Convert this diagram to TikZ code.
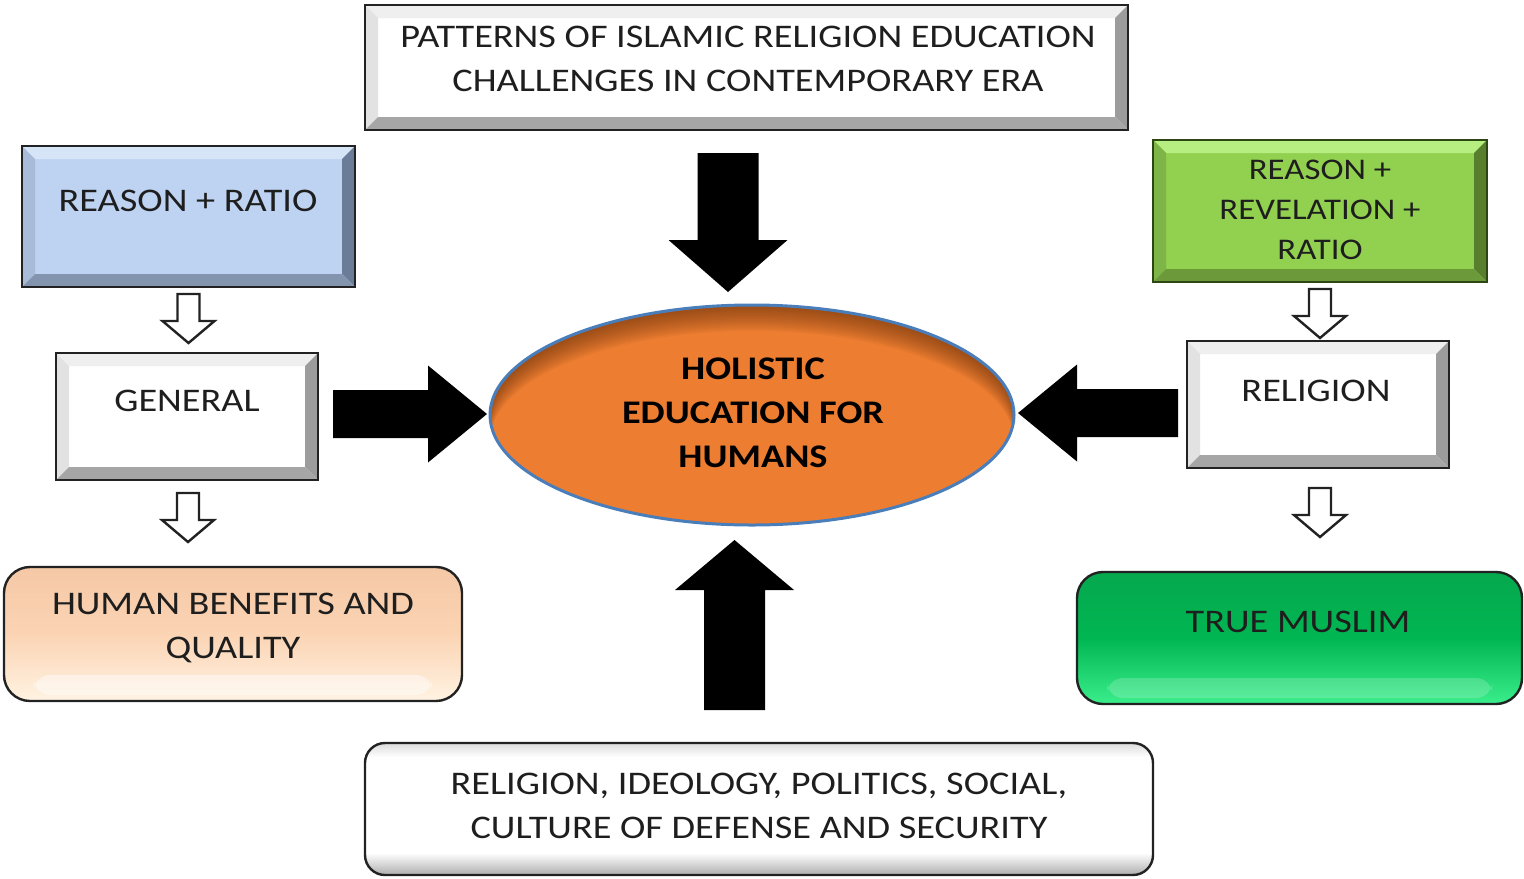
\documentclass[tikz,border=0pt]{standalone}
\usepackage{fontspec}
\setmainfont{Carlito}[FakeStretch=1.16]
\usetikzlibrary{calc,shapes.geometric}
\definecolor{txt}{HTML}{1E1E1E}
\definecolor{edge}{HTML}{222222}
\definecolor{bluebase}{HTML}{BDD3F1}
\definecolor{bluetop}{HTML}{D6E4F8}
\definecolor{blueleft}{HTML}{A8BBD8}
\definecolor{blueright}{HTML}{6A7C98}
\definecolor{bluebot}{HTML}{8394AE}
\definecolor{grnbase}{HTML}{92D050}
\definecolor{grntop}{HTML}{B6EE82}
\definecolor{grnleft}{HTML}{7DB548}
\definecolor{grnright}{HTML}{587F2E}
\definecolor{grnbot}{HTML}{6C9A3A}
\definecolor{grnedge}{HTML}{2E4514}
\definecolor{wtop}{HTML}{EFEFEF}
\definecolor{wleft}{HTML}{E2E2E2}
\definecolor{wright}{HTML}{9C9C9C}
\definecolor{wbot}{HTML}{A6A6A6}
\definecolor{peach}{HTML}{FBD4B4}
\definecolor{peachtop}{HTML}{F5C8A6}
\definecolor{peachbot}{HTML}{FFF3E2}
\definecolor{tmgreen}{HTML}{00B652}
\definecolor{tmtop}{HTML}{06A84E}
\definecolor{tmbot}{HTML}{3AEE8C}
\definecolor{orange}{HTML}{ED7D31}
\definecolor{shadowbrown}{HTML}{5A2A08}
\definecolor{ellblue}{HTML}{4A7EBB}
\newcommand{\bevelbox}[7]{%
  \fill[#2] (#1.north west) rectangle (#1.south east);
  \fill[#3] (#1.north west) -- (#1.north east) -- ($(#1.north east)+(-13,13)$) -- ($(#1.north west)+(13,13)$) -- cycle;
  \fill[#4] (#1.north west) -- ($(#1.north west)+(13,13)$) -- ($(#1.south west)+(13,-13)$) -- (#1.south west) -- cycle;
  \fill[#5] (#1.north east) -- ($(#1.north east)+(-13,13)$) -- ($(#1.south east)+(-13,-13)$) -- (#1.south east) -- cycle;
  \fill[#6] (#1.south west) -- ($(#1.south west)+(13,-13)$) -- ($(#1.south east)+(-13,-13)$) -- (#1.south east) -- cycle;
  \draw[line width=1.2pt, #7] (#1.north west) rectangle (#1.south east);}
\newcommand{\hollowdown}[1]{%
  \draw[hollowarr] ($(#1)+(-11,0)$) -- ++(22,0) -- ++(0,27) -- ++(15,0) -- ++(-26,22) -- ++(-26,-22) -- ++(15,0) -- cycle;}
\begin{document}
\begin{tikzpicture}[x=0.5pt,y=-0.5pt,
  boxgeom/.style={rectangle, draw=none, inner sep=0pt, outer sep=0pt},
  lbl/.style={text=txt, align=center, inner sep=0pt, font=\fontsize{16.5pt}{22pt}\selectfont},
  lblg/.style={text=txt, align=center, inner sep=0pt, font=\fontsize{15pt}{20pt}\selectfont},
  lblb/.style={text=black, align=center, inner sep=0pt, font=\fontsize{16.5pt}{22pt}\selectfont\bfseries},
  roundbox/.style={rectangle, rounded corners=13pt, draw=edge, line width=1.2pt, inner sep=0pt, outer sep=0pt},
  hollowarr/.style={draw=edge, line width=1.2pt, fill=white, line join=miter},
  blk/.style={fill=black}]
\useasboundingbox (0,0) rectangle (1524,878);
% --- bevelled boxes
\node[boxgeom, minimum width=381.5pt, minimum height=62.5pt] (top) at (746.5,67.5) {};
\bevelbox{top}{white}{wtop}{wleft}{wright}{wbot}{edge}
\node[boxgeom, minimum width=166.5pt, minimum height=70.5pt] (rr) at (188.5,216.5) {};
\bevelbox{rr}{bluebase}{bluetop}{blueleft}{blueright}{bluebot}{edge}
\node[boxgeom, minimum width=131pt, minimum height=63.5pt] (gen) at (187,416.5) {};
\bevelbox{gen}{white}{wtop}{wleft}{wright}{wbot}{edge}
\node[boxgeom, minimum width=167pt, minimum height=71pt] (grn) at (1320,211) {};
\bevelbox{grn}{grnbase}{grntop}{grnleft}{grnright}{grnbot}{grnedge}
\node[boxgeom, minimum width=131pt, minimum height=63.5pt] (rel) at (1318,404.5) {};
\bevelbox{rel}{white}{wtop}{wleft}{wright}{wbot}{edge}
% --- rounded glossy boxes
\node[roundbox, minimum width=229pt, minimum height=67pt, top color=peachtop, bottom color=peachbot, middle color=peach] (hb) at (233,634) {};
\fill[white, opacity=0.45, rounded corners=8pt] ($(hb.south west)+(30,-26)$) rectangle ($(hb.south east)+(-30,-6)$);
\node[roundbox, minimum width=222.5pt, minimum height=66pt, top color=tmtop, bottom color=tmbot, middle color=tmgreen] (tm) at (1299.5,638) {};
\fill[white, opacity=0.18, rounded corners=8pt] ($(tm.south west)+(30,-26)$) rectangle ($(tm.south east)+(-30,-6)$);
\node[roundbox, draw=none, fill=white, rounded corners=10pt, minimum width=394pt, minimum height=66pt] (bot) at (759,809) {};
\begin{scope}
  \clip[rounded corners=10pt] (bot.north west) rectangle (bot.south east);
  \fill[top color=white, bottom color=black!32] ($(bot.south west)+(0,-22)$) rectangle (bot.south east);
  \fill[top color=black!14, bottom color=white] (bot.north west) rectangle ($(bot.north east)+(0,14)$);
\end{scope}
\draw[edge, line width=1.2pt, rounded corners=10pt] (bot.north west) rectangle (bot.south east);
% --- central ellipse
\node[ellipse, fill=orange, draw=none, minimum width=262pt, minimum height=110pt, inner sep=0pt, outer sep=0pt] (ell) at (752,415) {};
\begin{scope}
  \clip (ell.center) ellipse [x radius=131pt, y radius=55pt];
  \foreach \s in {2,4,...,26}{
    \fill[shadowbrown, opacity=0.055, even odd rule] (ell.center) ellipse [x radius=131pt, y radius=55pt]
      ($(ell.center)+(0,\s)$) ellipse [x radius=131pt, y radius=55pt];}
\end{scope}
\draw[ellblue, line width=1.5pt] (ell.center) ellipse [x radius=131pt, y radius=55pt];
% --- labels
\node[lbl] (topt) at (748,59) {PATTERNS OF ISLAMIC RELIGION EDUCATION\\CHALLENGES IN CONTEMPORARY ERA};
\node[lbl] (rrt) at (188,201) {REASON + RATIO};
\node[lbl] (gent) at (187,401) {GENERAL};
\node[lbl] (hbt) at (233,628) {HUMAN BENEFITS AND\\QUALITY};
\node[lblg] (grnt) at (1320,210) {REASON +\\REVELATION +\\RATIO};
\node[lbl] (relt) at (1316,391) {RELIGION};
\node[lbl] (tmt) at (1298,622) {TRUE MUSLIM};
\node[lbl] (bott) at (759,806) {RELIGION, IDEOLOGY, POLITICS, SOCIAL,\\CULTURE OF DEFENSE AND SECURITY};
\node[lblb] (ellt) at (753,413) {HOLISTIC\\EDUCATION FOR\\HUMANS};
% --- hollow arrows
\coordinate (h1) at ($(rr.south)+(0,7)$);
\coordinate (h2) at ($(gen.south)+(1,13)$);
\coordinate (h3) at ($(grn.south)+(0,7)$);
\coordinate (h4) at ($(rel.south)+(2,20)$);
\hollowdown{h1}
\hollowdown{h2}
\hollowdown{h3}
\hollowdown{h4}
% --- black block arrows
\coordinate (ta) at ($(top.south)+(-18.5,23)$);
\coordinate (tb) at ($(ell.north)+(-24,-13)$);
\fill[blk] ($(ta)+(-30.5,0)$) -- ($(ta)+(30.5,0)$) -- ($(tb)+(30.5,-52)$) -- ($(tb)+(59.5,-52)$) -- (tb) -- ($(tb)+(-59.5,-52)$) -- ($(tb)+(-30.5,-52)$) -- cycle;
\coordinate (bs) at ($(bot.north)+(-24.5,-33)$);
\coordinate (bt) at ($(ell.south)+(-17.5,15)$);
\fill[blk] ($(bs)+(-30.5,0)$) -- ($(bs)+(30.5,0)$) -- ($(bt)+(30.5,50)$) -- ($(bt)+(59.5,50)$) -- (bt) -- ($(bt)+(-59.5,50)$) -- ($(bt)+(-30.5,50)$) -- cycle;
\coordinate (ls) at ($(gen.east)+(15,-2.5)$);
\coordinate (lt) at ($(ell.west)+(-3,-1)$);
\fill[blk] ($(ls)+(0,-24)$) -- ($(lt)+(-59,-24)$) -- ($(lt)+(-59,-48.5)$) -- (lt) -- ($(lt)+(-59,48.5)$) -- ($(lt)+(-59,24)$) -- ($(ls)+(0,24)$) -- cycle;
\coordinate (rs) at ($(rel.west)+(-9,8.5)$);
\coordinate (rt) at ($(ell.east)+(4,-2)$);
\fill[blk] ($(rs)+(0,-24)$) -- ($(rt)+(59,-24)$) -- ($(rt)+(59,-48.5)$) -- (rt) -- ($(rt)+(59,48.5)$) -- ($(rt)+(59,24)$) -- ($(rs)+(0,24)$) -- cycle;
\end{tikzpicture}
\end{document}
